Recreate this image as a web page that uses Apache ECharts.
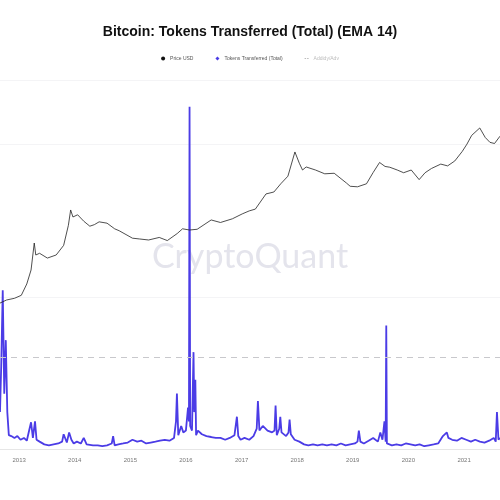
<!DOCTYPE html>
<html><head><meta charset="utf-8">
<script src="https://cdn.jsdelivr.net/npm/echarts@6/dist/echarts.min.js"></script>
<style>html,body{margin:0;padding:0;background:#fff}#c{width:500px;height:500px}</style>
</head><body><div id="c"></div>
<script>
const title = "Bitcoin: Tokens Transferred (Total) (EMA 14)";
const seriesNames = ["Price USD", "Tokens Transferred (Total)", "Addidy/Adv"];
const priceDates = ["2012-08-28","2012-10-10","2012-12-01","2013-01-15","2013-02-20","2013-03-20","2013-04-10","2013-04-20","2013-05-15","2013-07-05","2013-09-01","2013-10-20","2013-11-20","2013-12-05","2013-12-20","2014-01-20","2014-03-01","2014-04-10","2014-05-10","2014-06-10","2014-08-01","2014-09-20","2014-10-20","2015-01-15","2015-03-01","2015-05-01","2015-07-10","2015-09-01","2015-11-05","2015-12-10","2016-01-25","2016-03-15","2016-06-15","2016-08-15","2016-11-01","2017-01-05","2017-02-20","2017-04-01","2017-06-10","2017-08-01","2017-09-15","2017-11-01","2017-12-17","2018-01-15","2018-02-05","2018-03-01","2018-05-01","2018-07-01","2018-09-01","2018-11-20","2018-12-15","2019-02-01","2019-04-01","2019-05-15","2019-06-26","2019-08-01","2019-09-01","2019-10-20","2019-12-01","2020-01-20","2020-03-12","2020-04-20","2020-06-01","2020-08-01","2020-09-15","2020-11-01","2020-12-20","2021-01-20","2021-02-20","2021-04-14","2021-05-20","2021-06-20","2021-07-20","2021-08-25"];
const priceValues = [9.4,11,12,14,25,51,203,110,120,94,110,180,500,1100,769,860,620,480,520,600,560,420,380,260,250,237,270,230,330,420,395,410,660,580,700,900,1050,1150,2500,2760,4200,6200,21400,12000,8500,9930,8500,7000,7200,4380,3700,3600,4200,7500,12500,10200,9800,8500,7400,8500,5200,7400,9200,11500,10500,13500,22000,32000,50000,73000,45000,35000,33000,48000];
const tokenDates = ["2012-08-28","2012-09-05","2012-09-15","2012-09-25","2012-10-05","2012-10-15","2012-10-25","2012-11-10","2012-12-01","2012-12-20","2013-01-10","2013-02-01","2013-02-20","2013-03-10","2013-03-20","2013-04-01","2013-04-15","2013-04-25","2013-05-15","2013-06-15","2013-07-15","2013-08-15","2013-09-15","2013-10-10","2013-10-20","2013-11-10","2013-11-25","2013-12-10","2013-12-25","2014-01-15","2014-02-10","2014-03-01","2014-03-20","2014-04-01","2014-05-01","2014-06-01","2014-07-01","2014-08-01","2014-09-01","2014-09-10","2014-09-20","2014-10-15","2014-11-15","2014-12-15","2015-01-15","2015-02-15","2015-03-15","2015-04-15","2015-05-15","2015-06-15","2015-07-15","2015-08-15","2015-09-15","2015-10-15","2015-10-28","2015-11-03","2015-11-12","2015-12-01","2015-12-15","2016-01-01","2016-01-15","2016-01-21","2016-01-25","2016-01-29","2016-02-10","2016-02-20","2016-02-25","2016-03-03","2016-03-08","2016-03-20","2016-04-15","2016-05-15","2016-06-15","2016-07-15","2016-08-15","2016-09-15","2016-10-15","2016-11-15","2016-12-01","2016-12-10","2016-12-25","2017-01-20","2017-02-20","2017-03-20","2017-04-10","2017-04-18","2017-04-28","2017-05-20","2017-06-20","2017-07-20","2017-08-05","2017-08-12","2017-08-20","2017-09-05","2017-09-12","2017-09-20","2017-10-20","2017-11-05","2017-11-12","2017-11-20","2017-12-15","2018-01-15","2018-02-15","2018-03-15","2018-04-15","2018-05-15","2018-06-15","2018-07-15","2018-08-15","2018-09-15","2018-10-15","2018-11-15","2018-12-15","2019-01-15","2019-02-01","2019-02-10","2019-02-20","2019-03-15","2019-04-15","2019-05-15","2019-06-15","2019-07-01","2019-07-15","2019-07-28","2019-08-05","2019-08-09","2019-08-13","2019-08-25","2019-09-15","2019-10-15","2019-11-15","2019-12-15","2020-01-15","2020-02-15","2020-03-15","2020-04-15","2020-05-15","2020-06-15","2020-07-15","2020-08-15","2020-09-10","2020-09-20","2020-10-15","2020-11-15","2020-12-15","2021-01-15","2021-02-15","2021-03-15","2021-04-15","2021-05-15","2021-06-15","2021-07-15","2021-07-28","2021-08-05","2021-08-15","2021-08-25"];
const tokenValues = [40,90,172,60,118,40,15,14,12,14,10,12,9,22,29,12,30,10,8,5,4,5,6,8,16,7,18,10,6,8,6,12,5,6,4,4,3,4,6,14,4,5,6,7,10,8,9,6,7,8,9,10,9,12,30,60,15,25,18,20,45,30,371,25,20,105,40,75,15,20,16,14,13,12,12,10,12,15,35,14,10,12,10,14,22,52,20,25,20,18,20,47,15,22,35,18,14,18,32,16,10,8,5,4,5,4,5,4,5,4,6,4,5,6,8,20,8,6,9,12,8,18,10,30,8,134,6,5,4,5,4,6,5,4,5,3,4,5,6,14,18,12,10,9,12,10,8,10,8,7,9,12,8,40,10,12];
const yearLabels = ["2013","2014","2015","2016","2017","2018","2019","2020","2021"];
const thresholdValue = 100;

const price = priceDates.map((d,i)=>[d,priceValues[i]]);
const tokens = tokenDates.map((d,i)=>[d,tokenValues[i]]);
const chart = echarts.init(document.getElementById('c'));
chart.setOption({
  animation:false,
  title:{text:title,left:'center',top:20,textStyle:{fontSize:14,fontWeight:'bold',color:'#111',fontFamily:'Liberation Sans'}},
  legend:{top:51,left:'center',itemWidth:4,itemHeight:4,itemGap:22,textStyle:{fontSize:5,color:'#555'},
    data:[{name:seriesNames[0],icon:'circle'},{name:seriesNames[1],icon:'diamond'},{name:seriesNames[2],icon:'path://M0,4h3v2h-3zM5,4h3v2h-3z',textStyle:{color:'#bbb'}}]},
  graphic:[{type:'text',left:'center',top:240,z:0,style:{text:'CryptoQuant',fontSize:34,fill:'#e4e4ec',fontFamily:'Lato'}}],
  grid:{left:0,right:0,top:80,bottom:51},
  xAxis:{type:'time',min:'2012-08-28',max:'2021-08-25',
    axisLine:{lineStyle:{color:'#e6e6e6'}},axisTick:{show:false},splitLine:{show:false},
    axisLabel:{fontSize:6,color:'#777',margin:8,formatter:v=>{const y=String(new Date(v).getFullYear());return yearLabels.includes(y)?y:'';}}},
  yAxis:[
    {type:'log',min:0.00538,max:850000,show:true,axisLabel:{show:false},axisLine:{show:false},axisTick:{show:false},splitLine:{show:false}},
    {type:'value',min:0,max:400,interval:165,axisLabel:{show:false},axisLine:{show:false},axisTick:{show:false},splitLine:{show:true,lineStyle:{color:'#f4f4f6'}}}
  ],
  series:[
    {name:seriesNames[1],type:'line',yAxisIndex:1,data:tokens,symbol:'none',z:2,itemStyle:{color:'#4b3ce6'},lineStyle:{color:'#4b3ce6',width:1.8},
      markLine:{silent:true,symbol:'none',label:{show:false},lineStyle:{color:'#c8c8cc',type:[6,5],width:1},data:[{yAxis:thresholdValue}]}},
    {name:seriesNames[0],type:'line',yAxisIndex:0,data:price,symbol:'none',z:3,itemStyle:{color:'#111'},lineStyle:{color:'#222',width:0.8}},
    {name:seriesNames[2],type:'line',yAxisIndex:1,data:[],symbol:'none',itemStyle:{color:'#bbb'},lineStyle:{color:'#bbb',type:'dashed'}}
  ]
});
</script></body></html>
